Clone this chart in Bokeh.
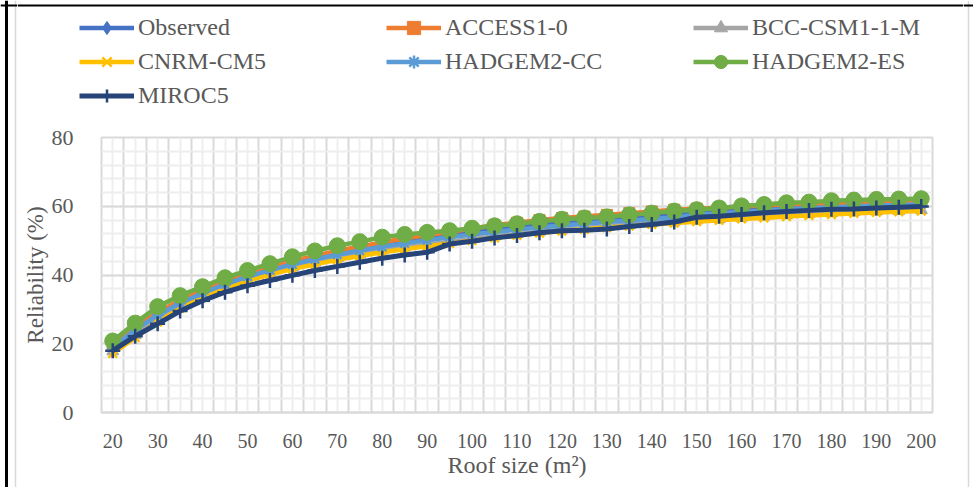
from bokeh.plotting import figure
from bokeh.models import FixedTicker, Legend, LegendItem, Range1d, Span
from bokeh.layouts import column, row
from bokeh.embed import file_html
from bokeh.resources import INLINE

roof_size = list(range(20, 205, 5))
x_tick_labels = list(range(20, 210, 10))
y_ticks = [0, 20, 40, 60, 80]

observed = [19.3, 24.4, 28.7, 32.2, 35.0, 37.6, 39.8, 41.8, 43.5, 45.0, 46.4, 47.6, 48.8, 49.8, 50.8, 51.7, 52.6, 53.4, 54.1, 54.8, 55.4, 55.9, 56.4, 56.8, 57.3, 57.7, 58.2, 58.6, 59.0, 59.4, 59.7, 60.0, 60.3, 60.5, 60.8, 61.0, 61.2]
access1_0 = [19.6, 24.8, 29.2, 32.6, 35.4, 37.9, 40.2, 42.2, 44.0, 45.6, 47.0, 48.3, 49.5, 50.6, 51.6, 52.5, 53.5, 54.5, 55.2, 56.0, 56.6, 57.0, 57.5, 58.0, 58.5, 59.0, 59.3, 59.6, 59.9, 60.2, 60.5, 60.7, 60.9, 61.1, 61.3, 61.5, 61.6]
bcc_csm1_1_m = [17.8, 22.5, 26.8, 30.6, 33.8, 36.4, 38.6, 40.5, 42.2, 43.6, 44.9, 46.0, 47.1, 48.0, 48.9, 49.7, 50.5, 51.2, 51.9, 52.6, 53.2, 53.7, 54.2, 54.6, 55.1, 55.5, 55.9, 56.3, 56.7, 57.0, 57.4, 57.7, 58.0, 58.3, 58.5, 58.7, 58.9]
cnrm_cm5 = [17.2, 21.8, 26.3, 30.3, 33.5, 36.1, 38.3, 40.1, 41.7, 43.1, 44.4, 45.5, 46.6, 47.5, 48.4, 49.2, 50.0, 50.8, 51.5, 52.2, 52.8, 53.3, 53.8, 54.2, 54.7, 55.1, 55.5, 55.9, 56.3, 56.6, 57.0, 57.3, 57.6, 57.9, 58.2, 58.4, 58.6]
hadgem2_cc = [19.0, 24.0, 28.3, 31.8, 34.7, 37.3, 39.5, 41.4, 43.1, 44.6, 45.9, 47.1, 48.2, 49.2, 50.1, 51.0, 51.8, 52.5, 53.2, 53.8, 54.4, 54.9, 55.4, 55.8, 56.3, 56.7, 57.5, 57.9, 58.3, 58.7, 59.1, 59.4, 59.7, 60.0, 60.2, 60.4, 60.6]
hadgem2_es = [20.8, 26.0, 30.8, 34.0, 36.6, 39.2, 41.3, 43.3, 45.3, 47.0, 48.5, 49.7, 51.0, 51.8, 52.4, 52.9, 53.6, 54.3, 54.9, 55.6, 56.2, 56.6, 56.9, 57.5, 58.0, 58.6, 59.0, 59.5, 60.1, 60.5, 61.0, 61.2, 61.6, 61.8, 62.0, 62.1, 62.2]
miroc5 = [18.0, 22.2, 25.8, 29.5, 32.5, 35.0, 36.9, 38.4, 39.9, 41.3, 42.5, 43.7, 44.9, 45.8, 46.6, 49.0, 49.8, 50.8, 51.5, 52.3, 52.9, 53.0, 53.4, 54.1, 54.7, 55.4, 56.8, 57.1, 57.6, 58.1, 58.5, 58.8, 59.1, 59.2, 59.5, 59.7, 59.9]

series = [
    ("Observed", observed, "#4472C4", "diamond", 15),
    ("ACCESS1-0", access1_0, "#ED7D31", "square", 11),
    ("BCC-CSM1-1-M", bcc_csm1_1_m, "#A5A5A5", "triangle", 12),
    ("CNRM-CM5", cnrm_cm5, "#FFC000", "x", 12),
    ("HADGEM2-CC", hadgem2_cc, "#5B9BD5", "asterisk", 12),
    ("HADGEM2-ES", hadgem2_es, "#70AD47", "circle", 16),
    ("MIROC5", miroc5, "#264478", "cross", 15),
]

FONT = "Liberation Serif"
TXT = "#595959"
W, H = 973, 487
LEFT_W, RIGHT_W = 17, 10
MID_W = W - LEFT_W - RIGHT_W
LEG_H = 112


def draw(fig, name, xs, ys, color, marker, size):
    r1 = fig.line(xs, ys, line_color=color, line_width=4.5 if name != "MIROC5" else 5)
    if marker in ("x", "asterisk", "cross"):
        r2 = fig.scatter(xs, ys, marker=marker, size=size, line_color=color, line_width=2.5)
    else:
        r2 = fig.scatter(xs, ys, marker=marker, size=size, fill_color=color, line_color=color)
    return [r1, r2]


def blank(width, height):
    f = figure(width=width, height=height, output_backend="svg", toolbar_location=None,
               x_range=Range1d(0, width), y_range=Range1d(height, 0),
               x_axis_location=None, y_axis_location=None,
               min_border_left=0, min_border_right=0, min_border_top=0, min_border_bottom=0)
    f.frame_align = False
    f.grid.visible = False
    f.outline_line_color = None
    return f


# ---- page borders (decoration) ----
left_strip = blank(LEFT_W, H)
left_strip.add_layout(Span(location=6, dimension="height", line_color="black", line_width=3))
left_strip.add_layout(Span(location=15, dimension="height", line_color="#d9d9d9", line_width=1.5))
left_strip.add_layout(Span(location=5, dimension="width", line_color="black", line_width=2))
right_strip = blank(RIGHT_W, H)
right_strip.add_layout(Span(location=5, dimension="height", line_color="#d9d9d9", line_width=1.5))
right_strip.add_layout(Span(location=5, dimension="width", line_color="black", line_width=2))

# ---- legend strip (top) ----
pl = blank(MID_W, LEG_H)
pl.add_layout(Span(location=5, dimension="width", line_color="black", line_width=2))
items = []
for name, vals, color, marker, size in series:
    rs = draw(pl, name, [-50, -40], [-50, -50], color, marker, size)
    items.append(LegendItem(label=name, renderers=rs))
legend = Legend(items=items, ncols=3, orientation="horizontal", location=(62, 0),
                glyph_width=55, glyph_height=33, label_height=33, label_width=247,
                label_standoff=4, spacing=1, padding=0, margin=0,
                label_text_font=FONT, label_text_font_size="24px", label_text_color=TXT,
                border_line_color=None, background_fill_alpha=0)
pl.add_layout(legend, "center")

# ---- main chart ----
p = figure(width=MID_W, height=H - LEG_H, output_backend="svg", toolbar_location=None,
           x_range=Range1d(17.5, 202.5), y_range=Range1d(0, 80),
           min_border_left=101 - LEFT_W, min_border_right=MID_W - (932 - LEFT_W),
           min_border_top=137 - LEG_H, min_border_bottom=H - 412)
p.frame_align = False
p.outline_line_color = "#d9d9d9"
p.outline_line_width = 2

step = roof_size[1] - roof_size[0]
bounds = [v - step / 2 for v in roof_size] + [roof_size[-1] + step / 2]
p.xgrid.ticker = FixedTicker(ticks=bounds, minor_ticks=roof_size)
p.xgrid.grid_line_color = "#d9d9d9"
p.xgrid.grid_line_width = 2
p.xgrid.minor_grid_line_color = "#eeeeee"
p.xgrid.minor_grid_line_width = 2
p.ygrid.ticker = FixedTicker(ticks=y_ticks, minor_ticks=list(range(0, 81, 4)))
p.ygrid.grid_line_color = "#d9d9d9"
p.ygrid.grid_line_width = 2
p.ygrid.minor_grid_line_color = "#eeeeee"
p.ygrid.minor_grid_line_width = 2

p.xaxis.ticker = FixedTicker(ticks=x_tick_labels, minor_ticks=[])
p.yaxis.ticker = FixedTicker(ticks=y_ticks, minor_ticks=[])
for ax in (p.xaxis[0], p.yaxis[0]):
    ax.major_tick_line_color = None
    ax.minor_tick_line_color = None
    ax.major_label_text_font = FONT
    ax.major_label_text_color = TXT
    ax.axis_label_text_font = FONT
    ax.axis_label_text_color = TXT
    ax.axis_label_text_font_style = "normal"
p.xaxis.major_label_text_font_size = "20px"
p.yaxis.major_label_text_font_size = "22px"
p.xaxis.axis_label_text_font_size = "24px"
p.yaxis.axis_label_text_font_size = "23px"
p.xaxis.axis_line_color = "#d9d9d9"
p.xaxis.axis_line_width = 2
p.yaxis.axis_line_color = None
p.xaxis.axis_label = "Roof size (m²)"
p.yaxis.axis_label = "Reliability (%)"
p.xaxis.major_label_standoff = 15
p.xaxis.axis_label_standoff = 1
p.yaxis.major_label_standoff = 22
p.yaxis.axis_label_standoff = 1

for name, vals, color, marker, size in series:
    draw(p, name, roof_size, vals, color, marker, size)

layout = row(left_strip, column(pl, p, spacing=0), right_strip, spacing=0)
open("out.html", "w").write(file_html(layout, INLINE))
